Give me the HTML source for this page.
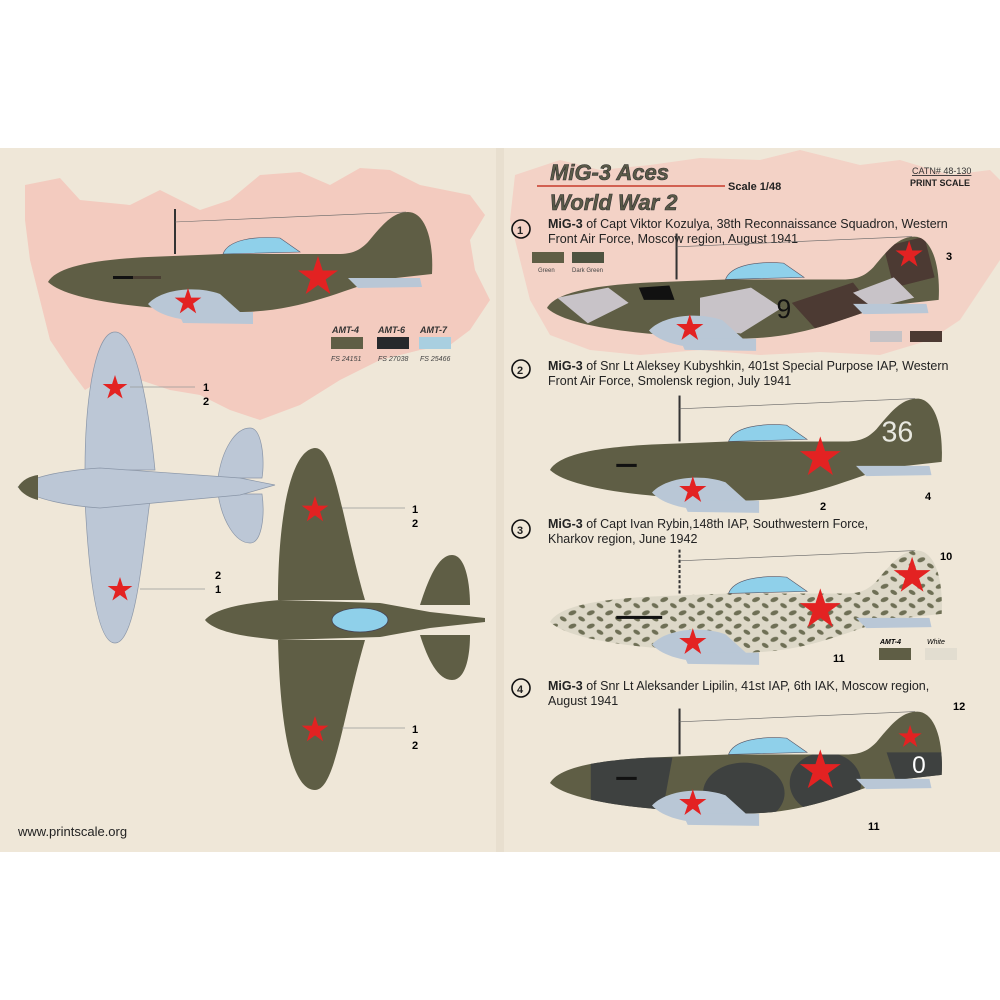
<!DOCTYPE html>
<html><head><meta charset="utf-8"><style>
html,body{margin:0;padding:0;background:#fff}
svg{display:block}
text{font-family:"Liberation Sans",sans-serif}
</style></head><body>
<svg width="1000" height="1000" viewBox="0 0 1000 1000" xmlns="http://www.w3.org/2000/svg">
<defs>
<polygon id="star" points="0,-1 0.2245,-0.309 0.951,-0.309 0.363,0.118 0.588,0.809 0,0.382 -0.588,0.809 -0.363,0.118 -0.951,-0.309 -0.2245,-0.309" fill="#e32222"/>
<path id="fus" d="M0,0 C8,-14 40,-22 100,-25 L175,-28 L290,-28 C305,-28 312,-32 320,-40 C335,-58 345,-70 360,-70 C376,-70 386,-45 384,-8 L330,-2 C290,10 250,30 190,30 L110,26 C60,22 15,14 0,0 Z"/>
<g id="under" fill="#b9c7d6">
<path d="M100,22 C115,6 150,4 172,12 L192,30 C180,42 120,44 100,22 Z"/>
<path d="M130,30 L205,30 L205,42 L135,41 Z"/>
<path d="M300,-4 L372,-4 L374,5 L310,6 Z"/>
</g>
<path id="canopy" d="M175,-28 C180,-42 205,-46 232,-44 L252,-30 Z" fill="#8fd0ea" stroke="#556" stroke-width="0.6"/>
<pattern id="dots" width="18" height="13" patternUnits="userSpaceOnUse">
<rect width="18" height="13" fill="#ddd8c8"/>
<ellipse cx="4" cy="4" rx="4" ry="2.2" fill="#6e6f55" transform="rotate(-20 4 4)"/>
<ellipse cx="13" cy="10" rx="3.6" ry="2" fill="#6e6f55" transform="rotate(30 13 10)"/>
</pattern>
<clipPath id="fc"><use href="#fus"/></clipPath>
</defs>

<rect x="0" y="148" width="1000" height="704" fill="#efe7d8"/>
<rect x="496" y="148" width="8" height="704" fill="#e8dfcf"/>

<!-- maps -->
<path d="M25,185 L60,178 L80,200 L130,205 L160,190 L200,210 L230,200 L260,175 L300,172 L330,185 L360,168 L390,170 L420,185 L470,195 L485,215 L470,240 L475,270 L490,300 L470,330 L450,345 L420,350 L380,360 L340,380 L300,405 L260,420 L230,410 L200,395 L170,390 L140,380 L110,375 L85,390 L70,370 L50,340 L40,300 L30,260 L25,220 Z" fill="#f3cbbf"/>
<path d="M515,175 L560,160 L600,170 L650,165 L700,158 L760,160 L800,150 L860,165 L900,160 L950,175 L990,170 L1000,180 L1000,260 L980,290 L960,320 L930,340 L880,355 L820,352 L760,355 L700,350 L640,355 L590,350 L550,335 L530,300 L520,260 L510,220 Z" fill="#f3d2c6"/>

<!-- left side plane -->
<g transform="translate(48,282)">
<line x1="127" y1="-28" x2="127" y2="-73" stroke="#333" stroke-width="2"/>
<line x1="127" y1="-60" x2="358" y2="-70" stroke="#666" stroke-width="0.6"/>
<use href="#fus" fill="#5f5e45"/>
<use href="#under"/>
<use href="#canopy"/>
<rect x="65" y="-6" width="20" height="3" fill="#111"/><rect x="85" y="-6" width="28" height="3" fill="#4a3f33"/>
<use href="#star" transform="translate(140,20) scale(14)"/>
<use href="#star" transform="translate(270,-5) scale(21)"/>
</g>
<text x="332" y="333" font-family="Liberation Serif" font-style="italic" font-weight="bold" font-size="9" fill="#333">AMT-4</text>
<text x="378" y="333" font-family="Liberation Serif" font-style="italic" font-weight="bold" font-size="9" fill="#333">AMT-6</text>
<text x="420" y="333" font-family="Liberation Serif" font-style="italic" font-weight="bold" font-size="9" fill="#333">AMT-7</text>
<rect x="331" y="337" width="32" height="12" fill="#5f5e45"/>
<rect x="377" y="337" width="32" height="12" fill="#26292c"/>
<rect x="419" y="337" width="32" height="12" fill="#a9cfe0"/>
<text x="331" y="361" font-size="7" font-style="italic" fill="#444">FS 24151</text>
<text x="378" y="361" font-size="7" font-style="italic" fill="#444">FS 27038</text>
<text x="420" y="361" font-size="7" font-style="italic" fill="#444">FS 25466</text>

<!-- left top view (underside) -->
<g fill="#bcc7d6" stroke="#8a96a8" stroke-width="0.7">
<path d="M85,470 C85,400 95,332 115,332 C135,332 148,400 155,470 Z"/>
<path d="M85,500 C88,560 95,643 115,643 C135,643 142,560 150,500 Z"/>
<path d="M218,478 C222,450 235,428 250,428 C262,428 265,460 262,478 Z"/>
<path d="M218,494 C222,520 235,543 250,543 C262,543 265,515 262,494 Z"/>
<path d="M18,487 C35,475 70,470 100,468 L240,478 L275,485 L240,495 L100,508 C70,506 35,500 18,487 Z"/>
</g>
<path d="M18,487 C22,480 30,476 38,475 L38,500 C30,498 22,494 18,487 Z" fill="#5f5e45"/>
<use href="#star" transform="translate(115,388) scale(13)"/>
<use href="#star" transform="translate(120,590) scale(13)"/>
<line x1="130" y1="387" x2="195" y2="387" stroke="#999" stroke-width="0.8"/>
<line x1="140" y1="589" x2="205" y2="589" stroke="#999" stroke-width="0.8"/>
<text x="203" y="391" font-size="11" font-weight="bold">1</text>
<text x="203" y="405" font-size="11" font-weight="bold">2</text>
<text x="215" y="579" font-size="11" font-weight="bold">2</text>
<text x="215" y="593" font-size="11" font-weight="bold">1</text>

<!-- right top view (upper) -->
<g fill="#5f5e45">
<path d="M278,600 C278,520 290,450 315,448 C335,448 342,520 365,600 Z"/>
<path d="M278,640 C280,720 290,790 315,790 C335,790 342,720 365,640 Z"/>
<path d="M420,605 C428,580 438,555 452,555 C466,555 470,585 470,605 Z"/>
<path d="M420,635 C428,660 438,680 452,680 C466,680 470,655 470,635 Z"/>
<path d="M205,620 C215,608 245,603 280,600 L380,603 L430,612 L485,618 L485,622 L430,628 L380,637 L280,640 C245,637 215,632 205,620 Z"/>
</g>
<ellipse cx="360" cy="620" rx="28" ry="12" fill="#8fd0ea" stroke="#445" stroke-width="0.8"/>
<use href="#star" transform="translate(315,510) scale(14)"/>
<use href="#star" transform="translate(315,730) scale(14)"/>
<line x1="342" y1="508" x2="405" y2="508" stroke="#999" stroke-width="0.8"/>
<line x1="342" y1="728" x2="405" y2="728" stroke="#999" stroke-width="0.8"/>
<text x="412" y="513" font-size="11" font-weight="bold">1</text>
<text x="412" y="527" font-size="11" font-weight="bold">2</text>
<text x="412" y="733" font-size="11" font-weight="bold">1</text>
<text x="412" y="749" font-size="11" font-weight="bold">2</text>
<text x="18" y="836" font-size="13" fill="#222">www.printscale.org</text>

<!-- title -->
<text x="550" y="180" font-size="22" font-weight="bold" font-style="italic" fill="#5a5a48" stroke="#333" stroke-width="0.6">MiG-3 Aces</text>
<line x1="537" y1="186" x2="725" y2="186" stroke="#c83a2a" stroke-width="1.5"/>
<text x="728" y="190" font-size="11" font-weight="bold" fill="#222">Scale 1/48</text>
<text x="550" y="210" font-size="22" font-weight="bold" font-style="italic" fill="#5a5a48" stroke="#333" stroke-width="0.6">World War 2</text>
<text x="912" y="174" font-size="9" font-family="Liberation Serif" fill="#333" text-decoration="underline">CATN# 48-130</text>
<text x="910" y="186" font-size="9" font-family="Liberation Serif" font-weight="bold" fill="#222">PRINT SCALE</text>

<!-- entries -->
<g font-size="12.5" fill="#222">
<circle cx="521" cy="229" r="9" fill="none" stroke="#111" stroke-width="1.6"/><text x="517" y="234" font-weight="bold" font-size="11">1</text>
<text x="548" y="228"><tspan font-weight="bold">MiG-3</tspan> of Capt Viktor Kozulya, 38th Reconnaissance Squadron, Western</text>
<text x="548" y="243">Front Air Force, Moscow region, August 1941</text>
<circle cx="521" cy="369" r="9" fill="none" stroke="#111" stroke-width="1.6"/><text x="517" y="374" font-weight="bold" font-size="11">2</text>
<text x="548" y="370"><tspan font-weight="bold">MiG-3</tspan> of Snr Lt Aleksey Kubyshkin, 401st Special Purpose IAP, Western</text>
<text x="548" y="385">Front Air Force, Smolensk region, July 1941</text>
<circle cx="521" cy="529" r="9" fill="none" stroke="#111" stroke-width="1.6"/><text x="517" y="534" font-weight="bold" font-size="11">3</text>
<text x="548" y="528"><tspan font-weight="bold">MiG-3</tspan> of Capt Ivan Rybin,148th IAP, Southwestern Force,</text>
<text x="548" y="543">Kharkov region, June 1942</text>
<circle cx="521" cy="688" r="9" fill="none" stroke="#111" stroke-width="1.6"/><text x="517" y="693" font-weight="bold" font-size="11">4</text>
<text x="548" y="690"><tspan font-weight="bold">MiG-3</tspan> of Snr Lt Aleksander Lipilin, 41st IAP, 6th IAK, Moscow region,</text>
<text x="548" y="705">August 1941</text>
</g>
<rect x="532" y="252" width="32" height="11" fill="#5f5e45"/><rect x="572" y="252" width="32" height="11" fill="#4e5340"/>
<text x="538" y="272" font-size="6" fill="#444">Green</text><text x="572" y="272" font-size="6" fill="#444">Dark Green</text>
<rect x="870" y="331" width="32" height="11" fill="#c6c3c6"/><rect x="910" y="331" width="32" height="11" fill="#4c3a33"/>

<!-- plane 1 right -->
<g transform="translate(547,308) scale(1.02)">
<line x1="127" y1="-28" x2="127" y2="-73" stroke="#333" stroke-width="2"/>
<line x1="127" y1="-60" x2="358" y2="-70" stroke="#666" stroke-width="0.6"/>
<use href="#fus" fill="#5f5e45"/>
<g clip-path="url(#fc)">
<path d="M10,-10 L60,-20 L80,-5 L40,15 Z" fill="#c8c3c8"/>
<path d="M150,-10 L200,-20 L230,0 L190,25 L150,20 Z" fill="#c8c3c8"/>
<path d="M240,-5 L300,-25 L320,0 L270,28 Z" fill="#4c3a33"/>
<path d="M330,-60 L370,-70 L380,-30 L340,-20 Z" fill="#4c3a33"/>
<path d="M300,-15 L340,-30 L360,-10 L320,0 Z" fill="#c8c3c8"/>
<path d="M90,-20 L120,-22 L125,-8 L95,-8 Z" fill="#111"/>
</g>
<use href="#under"/><use href="#canopy"/>
<text x="225" y="10" font-size="26" fill="#111">9</text>
<use href="#star" transform="translate(140,20) scale(14)"/>
<use href="#star" transform="translate(355,-52) scale(14)"/>
</g>
<text x="946" y="260" font-size="11" font-weight="bold">3</text>

<!-- plane 2 -->
<g transform="translate(550,470) scale(1.02)">
<line x1="127" y1="-28" x2="127" y2="-73" stroke="#333" stroke-width="2"/>
<line x1="127" y1="-60" x2="358" y2="-70" stroke="#666" stroke-width="0.6"/>
<use href="#fus" fill="#5f5e45"/>
<use href="#under"/><use href="#canopy"/>
<rect x="65" y="-6" width="20" height="3" fill="#111"/>
<text x="325" y="-28" font-size="28" fill="#e8e8e0">36</text>
<use href="#star" transform="translate(140,20) scale(14)"/>
<use href="#star" transform="translate(265,-12) scale(21)"/>
</g>
<text x="820" y="510" font-size="11" font-weight="bold">2</text>
<text x="925" y="500" font-size="11" font-weight="bold">4</text>

<!-- plane 3 -->
<g transform="translate(550,622) scale(1.02)">
<line x1="127" y1="-28" x2="127" y2="-73" stroke="#333" stroke-width="2" stroke-dasharray="3 2"/>
<line x1="127" y1="-60" x2="358" y2="-70" stroke="#666" stroke-width="0.6"/>
<use href="#fus" fill="url(#dots)"/>
<use href="#under"/><use href="#canopy"/>
<rect x="65" y="-6" width="45" height="3" fill="#111"/>
<use href="#star" transform="translate(140,20) scale(14)"/>
<use href="#star" transform="translate(265,-12) scale(21)"/>
<use href="#star" transform="translate(355,-45) scale(19)"/>
</g>
<text x="940" y="560" font-size="11" font-weight="bold">10</text>
<text x="833" y="662" font-size="11" font-weight="bold">11</text>
<text x="880" y="644" font-size="7" font-weight="bold" font-style="italic" font-family="Liberation Serif">AMT-4</text>
<text x="927" y="644" font-size="7" font-style="italic">White</text>
<rect x="879" y="648" width="32" height="12" fill="#5f5e45"/><rect x="925" y="648" width="32" height="12" fill="#e2ddd0"/>

<!-- plane 4 -->
<g transform="translate(550,783) scale(1.02)">
<line x1="127" y1="-28" x2="127" y2="-73" stroke="#333" stroke-width="2"/>
<line x1="127" y1="-60" x2="358" y2="-70" stroke="#666" stroke-width="0.6"/>
<use href="#fus" fill="#5f5e45"/>
<g clip-path="url(#fc)" fill="#3e4140">
<path d="M40,-25 L120,-25 L110,30 L40,30 Z"/>
<ellipse cx="190" cy="10" rx="40" ry="30"/>
<ellipse cx="270" cy="0" rx="35" ry="30"/>
<path d="M330,-30 L390,-30 L390,0 L340,0 Z"/>
</g>
<use href="#under"/><use href="#canopy"/>
<rect x="65" y="-6" width="20" height="3" fill="#111"/>
<text x="355" y="-10" font-size="24" fill="#fff">0</text>
<use href="#star" transform="translate(140,20) scale(14)"/>
<use href="#star" transform="translate(265,-12) scale(21)"/>
<use href="#star" transform="translate(353,-45) scale(12)"/>
</g>
<text x="953" y="710" font-size="11" font-weight="bold">12</text>
<text x="868" y="830" font-size="11" font-weight="bold">11</text>
</svg>
</body></html>
